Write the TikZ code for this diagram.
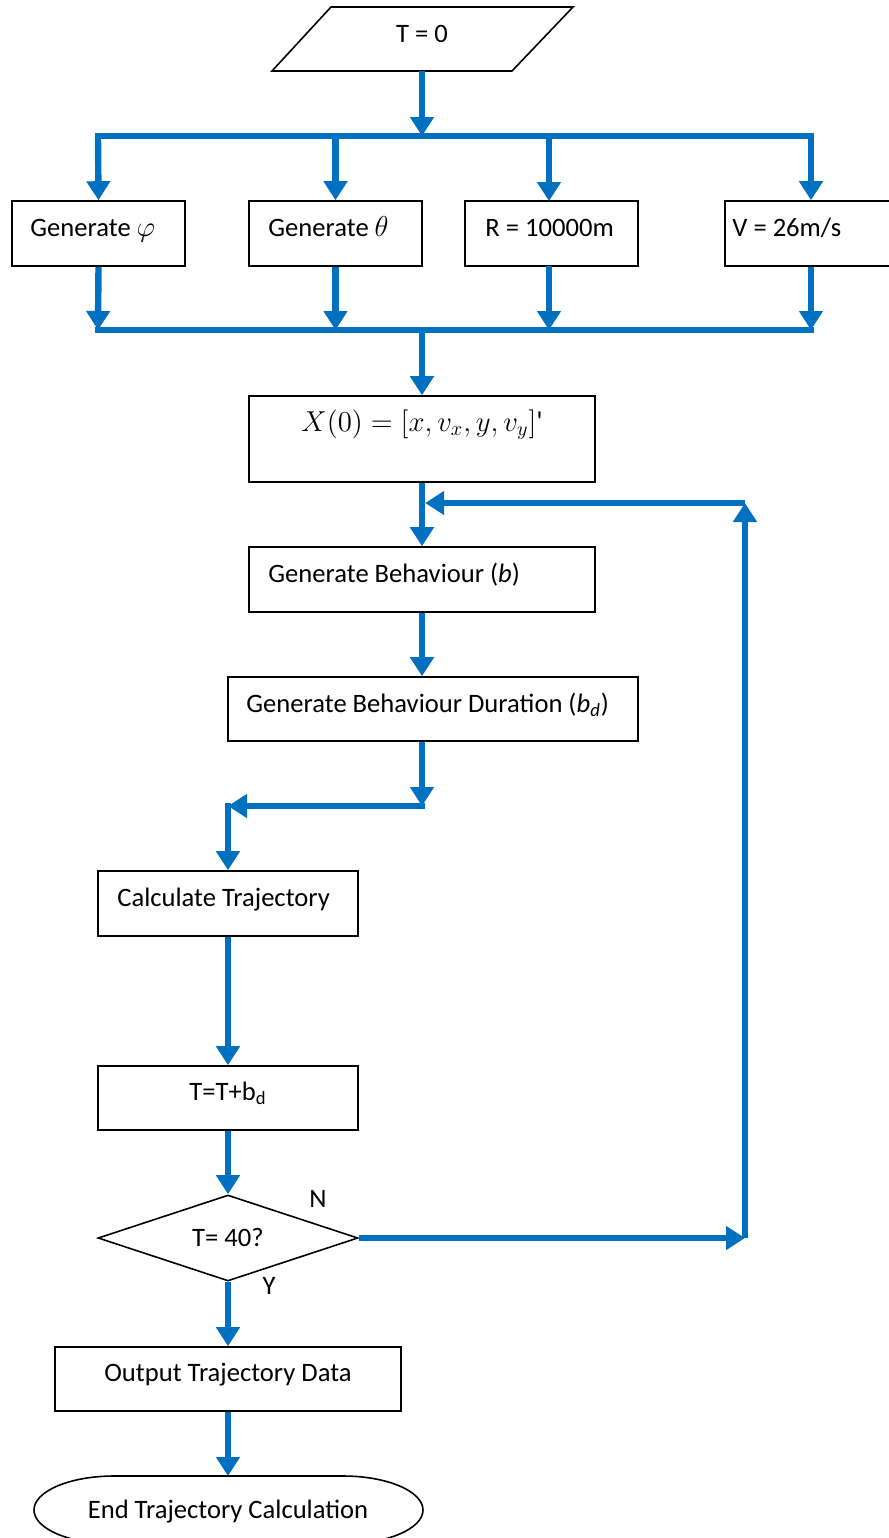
\documentclass[tikz,border=0pt]{standalone}
\usepackage{fontspec}
\setmainfont{Carlito}
\newfontfamily\calnomap{Carlito}
\usetikzlibrary{arrows.meta,shapes.geometric,fit}
\definecolor{flowblue}{RGB}{0,112,192}
\begin{document}
\begin{tikzpicture}[x=0.5pt,y=-0.5pt,
  box/.style={draw=black,line width=0.8pt,inner sep=0pt},
  txt/.style={inner sep=0pt,font=\fontsize{13.3}{16}\selectfont},
  arr/.style={draw=flowblue,line width=3.2pt,-{Triangle[width=11.5pt,length=9.5pt]}},
  bus/.style={draw=flowblue,line width=3.2pt,line cap=rect},
  shapeline/.style={draw=black,line width=0.8pt}]
\useasboundingbox (0,0) rectangle (889,1538);
% start parallelogram
\draw[shapeline] (331,7) -- (573,7) -- (512,71) -- (272,71) -- cycle;
\coordinate (par) at (422,71);
\node[txt,anchor=base] (t0) at (422,42) {T = 0};
% buses
\coordinate (busTa) at (98,136);
\coordinate (busTb) at (811,136);
\coordinate (busTm) at (422,136);
\coordinate (busBa) at (98,330);
\coordinate (busBb) at (811,330);
\coordinate (busBm) at (422,330);
\draw[bus] (busTa) -- (busTb);
\draw[bus] (busBa) -- (busBb);
% top boxes
\node[box,fit={(12,201) (185,266)}] (b1) {};
\node[box,fit={(249,201) (422,266)}] (b2) {};
\node[box,fit={(465,201) (638,266)}] (b3) {};
\node[box,fit={(725,201) (897,266)}] (b4) {};
\node[txt,anchor=base west] (l1) at (30,236) {Generate $\varphi$};
\node[txt,anchor=base west] (l2) at (268,236) {Generate $\theta$};
\node[txt,anchor=base west] (l3) at (485,236) {R = 10000m};
\node[txt,anchor=base west] (l4) at (732,236) {V = 26m/s};
% main column
\node[box,fit={(249,396) (595,482)}] (x0) {};
\node[inner sep=0pt,anchor=base,font=\fontsize{14.5}{17}\selectfont] (x0t) at (422,431) {$X(0)=[x,v_x,y,v_y]${\calnomap'}};
\node[box,fit={(249,547) (595,612)}] (gb) {};
\node[txt,anchor=base west] (gbt) at (268,582) {Generate Behaviour (\textit{b})};
\node[box,fit={(228,677) (638,741)}] (gbd) {};
\node[txt,anchor=base west] (gbdt) at (246,712) {Generate Behaviour Duration (\textit{b\textsubscript{d}})};
\node[box,fit={(98,871) (358,936)}] (calc) {};
\node[txt,anchor=base west] (calct) at (117,906) {Calculate Trajectory};
\node[box,fit={(98,1066) (358,1130)}] (tt) {};
\node[txt,anchor=base] (ttt) at (228,1100) {T=T+b\textsubscript{d}};
\node[diamond,draw=black,line width=0.8pt,inner sep=0pt,minimum width=130pt,minimum height=43pt] (dec) at (228,1238) {};
\node[txt,anchor=base] (dect) at (228,1246) {T= 40?};
\node[txt] (nlab) at (318,1199) {N};
\node[txt] (ylab) at (269,1286) {Y};
\node[box,fit={(55,1347) (401,1411)}] (out) {};
\node[txt,anchor=base] (outt) at (228,1381) {Output Trajectory Data};
\draw[shapeline] (114,1476) -- (343,1476) arc[start angle=90,end angle=-90,x radius=40pt,y radius=17pt] -- (114,1544) arc[start angle=270,end angle=90,x radius=40pt,y radius=17pt] -- cycle;
\coordinate (endtop) at (228,1476);
\node[txt,anchor=base] (endt) at (228,1518) {End Trajectory Calculation};
% helper coordinates
\coordinate (loopTop) at (745,503);
\coordinate (loopJoin) at (422,503);
\coordinate (loopBot) at (745,1238);
\coordinate (jog1) at (422,806);
\coordinate (jog2) at (228,806);
% connectors
\draw[arr] (par) -- (busTm);
\draw[arr] (busTa) -- (b1.north);
\draw[arr] (b2.north |- busTm) -- (b2.north);
\draw[arr] (549,136) -- (549,201);
\draw[arr] (busTb) -- (b4.north);
\draw[arr] (b1.south) -- (busBa);
\draw[arr] (b2.south) -- (b2.south |- busBm);
\draw[arr] (549,266) -- (549,330);
\draw[arr] (b4.south) -- (busBb);
\draw[arr] (busBm) -- (x0.north);
\draw[arr] (x0.south) -- (gb.north);
\draw[arr] (gb.south) -- (gb.south |- gbd.north);
\draw[arr] (gb.south |- gbd.south) -- (jog1);
\draw[arr] ([xshift=1.6pt]jog1) -- (jog2);
\draw[arr] ([yshift=1.6pt]jog2) -- (calc.north);
\draw[arr] (calc.south) -- (tt.north);
\draw[arr] (tt.south) -- (dec.north);
\draw[arr] (dec.east) -- (loopBot);
\draw[arr] (loopBot) -- (loopTop);
\draw[arr] (loopTop) -- ([xshift=1.6pt]loopJoin);
\draw[arr] (dec.south) -- (out.north);
\draw[arr] (out.south) -- (endtop);
\end{tikzpicture}
\end{document}
